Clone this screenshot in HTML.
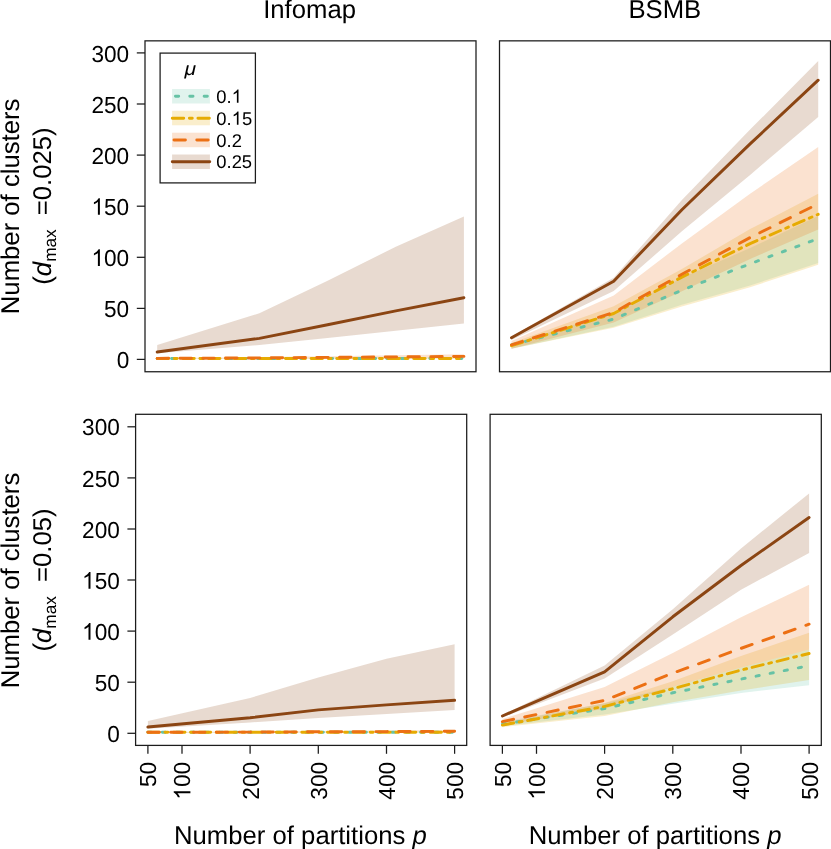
<!DOCTYPE html>
<html><head><meta charset="utf-8"><title>chart</title>
<style>html,body{margin:0;padding:0;background:#fff}svg{display:block;will-change:transform}text{font-family:"Liberation Sans", sans-serif;fill:#000;text-rendering:geometricPrecision}</style>
</head><body>
<svg width="831" height="849" viewBox="0 0 831 849">
<rect x="0" y="0" width="831" height="849" fill="#ffffff"/>
<g id="TL">
<polygon points="157.2,358.2 259.4,358.1 327.6,358.0 395.8,357.9 463.9,357.8 463.9,358.6 395.8,358.6 327.6,358.6 259.4,358.6 157.2,358.6" fill="#66C2A5" fill-opacity="0.2"/>
<polygon points="157.2,358.2 259.4,358.0 327.6,357.8 395.8,357.6 463.9,357.4 463.9,358.6 395.8,358.6 327.6,358.6 259.4,358.6 157.2,358.6" fill="#E6AB02" fill-opacity="0.2"/>
<polygon points="157.2,358.1 259.4,357.1 327.6,356.2 395.8,355.2 463.9,354.3 463.9,357.6 395.8,357.9 327.6,358.2 259.4,358.4 157.2,358.5" fill="#EC7014" fill-opacity="0.2"/>
<polygon points="157.2,345.1 259.4,313.2 327.6,280.8 395.8,246.7 463.9,216.4 463.9,323.5 395.8,330.8 327.6,338.0 259.4,345.1 157.2,353.3" fill="#8B4513" fill-opacity="0.2"/>
<polyline points="157.2,358.4 259.4,358.4 327.6,358.4 395.8,358.4 463.9,358.4" fill="none" stroke="#66C2A5" stroke-width="2.95" stroke-linecap="round" stroke-linejoin="round" stroke-dasharray="3.20 11.15"/>
<polyline points="157.2,358.4 259.4,358.4 327.6,358.4 395.8,358.4 463.9,358.4" fill="none" stroke="#E6AB02" stroke-width="2.95" stroke-linecap="round" stroke-linejoin="round" stroke-dasharray="11.40 5.70 2.85 5.70"/>
<polyline points="157.2,358.4 259.4,357.9 327.6,357.4 395.8,356.9 463.9,356.4" fill="none" stroke="#EC7014" stroke-width="2.95" stroke-linecap="round" stroke-linejoin="round" stroke-dasharray="11.40 11.40"/>
<polyline points="157.2,352.0 259.4,338.4 327.6,324.7 395.8,310.9 463.9,297.7" fill="none" stroke="#8B4513" stroke-width="2.95" stroke-linecap="round" stroke-linejoin="round"/>
<rect x="145.0" y="40.85" width="331.0" height="330.9" fill="none" stroke="#1c1c1c" stroke-width="1.26"/>
</g>
<g id="TR">
<polygon points="511.5,344.1 613.7,312.5 681.9,277.7 750.1,248.1 818.2,216.1 818.2,263.0 750.1,285.5 681.9,304.8 613.7,326.8 511.5,348.7" fill="#66C2A5" fill-opacity="0.2"/>
<polygon points="511.5,343.1 613.7,306.3 681.9,269.0 750.1,229.1 818.2,193.8 818.2,264.8 750.1,287.3 681.9,306.5 613.7,327.8 511.5,348.8" fill="#E6AB02" fill-opacity="0.2"/>
<polygon points="511.5,341.1 613.7,295.4 681.9,243.4 750.1,193.7 818.2,146.9 818.2,229.6 750.1,258.9 681.9,291.2 613.7,322.4 511.5,348.7" fill="#EC7014" fill-opacity="0.2"/>
<polygon points="511.5,336.5 613.7,277.7 681.9,200.1 750.1,129.6 818.2,61.1 818.2,117.0 750.1,174.9 681.9,231.3 613.7,291.0 511.5,340.0" fill="#8B4513" fill-opacity="0.2"/>
<polyline points="511.5,344.9 613.7,319.1 681.9,290.2 750.1,263.8 818.2,238.6" fill="none" stroke="#66C2A5" stroke-width="2.95" stroke-linecap="round" stroke-linejoin="round" stroke-dasharray="3.20 11.15"/>
<polyline points="511.5,345.7 613.7,313.5 681.9,277.1 750.1,243.6 818.2,214.3" fill="none" stroke="#E6AB02" stroke-width="2.95" stroke-linecap="round" stroke-linejoin="round" stroke-dasharray="11.40 5.70 2.85 5.70"/>
<polyline points="511.5,344.8 613.7,312.5 681.9,274.2 750.1,237.6 818.2,203.8" fill="none" stroke="#EC7014" stroke-width="2.95" stroke-linecap="round" stroke-linejoin="round" stroke-dasharray="11.40 11.40"/>
<polyline points="511.5,337.7 613.7,281.2 681.9,209.7 750.1,143.9 818.2,80.2" fill="none" stroke="#8B4513" stroke-width="2.95" stroke-linecap="round" stroke-linejoin="round"/>
<rect x="499.5" y="40.85" width="331.0" height="330.9" fill="none" stroke="#1c1c1c" stroke-width="1.26"/>
</g>
<g id="BL">
<polygon points="147.9,732.1 250.1,732.1 318.3,732.0 386.5,732.0 454.6,731.9 454.6,732.5 386.5,732.5 318.3,732.5 250.1,732.5 147.9,732.5" fill="#66C2A5" fill-opacity="0.2"/>
<polygon points="147.9,732.1 250.1,732.0 318.3,731.9 386.5,731.8 454.6,731.7 454.6,732.5 386.5,732.5 318.3,732.5 250.1,732.5 147.9,732.5" fill="#E6AB02" fill-opacity="0.2"/>
<polygon points="147.9,732.0 250.1,731.5 318.3,731.0 386.5,730.4 454.6,730.0 454.6,732.0 386.5,732.1 318.3,732.2 250.1,732.3 147.9,732.4" fill="#EC7014" fill-opacity="0.2"/>
<polygon points="147.9,721.0 250.1,697.9 318.3,677.6 386.5,658.8 454.6,644.2 454.6,710.0 386.5,714.1 318.3,718.0 250.1,722.4 147.9,728.7" fill="#8B4513" fill-opacity="0.2"/>
<polyline points="147.9,732.3 250.1,732.3 318.3,732.3 386.5,732.3 454.6,732.3" fill="none" stroke="#66C2A5" stroke-width="2.95" stroke-linecap="round" stroke-linejoin="round" stroke-dasharray="3.20 11.15"/>
<polyline points="147.9,732.3 250.1,732.3 318.3,732.3 386.5,732.3 454.6,732.3" fill="none" stroke="#E6AB02" stroke-width="2.95" stroke-linecap="round" stroke-linejoin="round" stroke-dasharray="11.40 5.70 2.85 5.70"/>
<polyline points="147.9,732.3 250.1,732.1 318.3,731.8 386.5,731.6 454.6,731.3" fill="none" stroke="#EC7014" stroke-width="2.95" stroke-linecap="round" stroke-linejoin="round" stroke-dasharray="11.40 11.40"/>
<polyline points="147.9,727.0 250.1,717.8 318.3,709.9 386.5,704.9 454.6,700.3" fill="none" stroke="#8B4513" stroke-width="2.95" stroke-linecap="round" stroke-linejoin="round"/>
<rect x="135.6" y="414.3" width="331.1" height="331.1" fill="none" stroke="#1c1c1c" stroke-width="1.26"/>
</g>
<g id="BR">
<polygon points="502.4,722.1 604.6,703.2 672.8,686.7 741.0,667.6 809.1,649.6 809.1,685.2 741.0,693.0 672.8,703.7 604.6,714.4 502.4,726.1" fill="#66C2A5" fill-opacity="0.2"/>
<polygon points="502.4,723.1 604.6,703.1 672.8,681.2 741.0,656.0 809.1,632.8 809.1,680.0 741.0,690.4 672.8,702.2 604.6,715.9 502.4,727.2" fill="#E6AB02" fill-opacity="0.2"/>
<polygon points="502.4,719.0 604.6,687.1 672.8,652.9 741.0,617.2 809.1,584.8 809.1,649.6 741.0,667.6 672.8,686.7 604.6,708.8 502.4,725.1" fill="#EC7014" fill-opacity="0.2"/>
<polygon points="502.4,714.9 604.6,665.6 672.8,609.2 741.0,548.4 809.1,493.4 809.1,553.0 741.0,589.8 672.8,634.6 604.6,678.6 502.4,717.5" fill="#8B4513" fill-opacity="0.2"/>
<polyline points="502.4,724.1 604.6,708.6 672.8,692.8 741.0,679.1 809.1,665.7" fill="none" stroke="#66C2A5" stroke-width="2.95" stroke-linecap="round" stroke-linejoin="round" stroke-dasharray="3.20 11.15"/>
<polyline points="502.4,725.1 604.6,706.4 672.8,688.7 741.0,670.1 809.1,653.5" fill="none" stroke="#E6AB02" stroke-width="2.95" stroke-linecap="round" stroke-linejoin="round" stroke-dasharray="11.40 5.70 2.85 5.70"/>
<polyline points="502.4,721.6 604.6,700.4 672.8,673.1 741.0,648.4 809.1,624.2" fill="none" stroke="#EC7014" stroke-width="2.95" stroke-linecap="round" stroke-linejoin="round" stroke-dasharray="11.40 11.40"/>
<polyline points="502.4,716.0 604.6,671.9 672.8,616.8 741.0,565.5 809.1,517.5" fill="none" stroke="#8B4513" stroke-width="2.95" stroke-linecap="round" stroke-linejoin="round"/>
<rect x="490.1" y="414.3" width="331.2" height="331.1" fill="none" stroke="#1c1c1c" stroke-width="1.26"/>
</g>
<line x1="136.8" y1="359.4" x2="145.0" y2="359.4" stroke="#1c1c1c" stroke-width="1.26"/>
<g transform="translate(129.2,368.10) scale(0.975,1)"><text x="-12.90" y="0" font-size="23.2">0</text></g>
<line x1="136.8" y1="308.4" x2="145.0" y2="308.4" stroke="#1c1c1c" stroke-width="1.26"/>
<g transform="translate(129.2,317.01) scale(0.975,1)"><text x="-25.81" y="0" font-size="23.2">50</text></g>
<line x1="136.8" y1="257.3" x2="145.0" y2="257.3" stroke="#1c1c1c" stroke-width="1.26"/>
<g transform="translate(129.2,265.93) scale(0.975,1)"><path transform="translate(-38.71,0) scale(0.01133,-0.01133)" d="M763 0H583V1147Q518 1085 412.5 1023Q307 961 223 930V1104Q374 1175 487 1276Q600 1377 647 1472H763Z" fill="#000"/><text x="-25.81" y="0" font-size="23.2">00</text></g>
<line x1="136.8" y1="206.2" x2="145.0" y2="206.2" stroke="#1c1c1c" stroke-width="1.26"/>
<g transform="translate(129.2,214.84) scale(0.975,1)"><path transform="translate(-38.71,0) scale(0.01133,-0.01133)" d="M763 0H583V1147Q518 1085 412.5 1023Q307 961 223 930V1104Q374 1175 487 1276Q600 1377 647 1472H763Z" fill="#000"/><text x="-25.81" y="0" font-size="23.2">50</text></g>
<line x1="136.8" y1="155.1" x2="145.0" y2="155.1" stroke="#1c1c1c" stroke-width="1.26"/>
<g transform="translate(129.2,163.76) scale(0.975,1)"><text x="-38.71" y="0" font-size="23.2">200</text></g>
<line x1="136.8" y1="104.0" x2="145.0" y2="104.0" stroke="#1c1c1c" stroke-width="1.26"/>
<g transform="translate(129.2,112.67) scale(0.975,1)"><text x="-38.71" y="0" font-size="23.2">250</text></g>
<line x1="136.8" y1="52.9" x2="145.0" y2="52.9" stroke="#1c1c1c" stroke-width="1.26"/>
<g transform="translate(129.2,61.59) scale(0.975,1)"><text x="-38.71" y="0" font-size="23.2">300</text></g>
<line x1="127.4" y1="733.3" x2="135.6" y2="733.3" stroke="#1c1c1c" stroke-width="1.26"/>
<g transform="translate(119.8,741.95) scale(0.975,1)"><text x="-12.90" y="0" font-size="23.2">0</text></g>
<line x1="127.4" y1="682.2" x2="135.6" y2="682.2" stroke="#1c1c1c" stroke-width="1.26"/>
<g transform="translate(119.8,690.86) scale(0.975,1)"><text x="-25.81" y="0" font-size="23.2">50</text></g>
<line x1="127.4" y1="631.1" x2="135.6" y2="631.1" stroke="#1c1c1c" stroke-width="1.26"/>
<g transform="translate(119.8,639.78) scale(0.975,1)"><path transform="translate(-38.71,0) scale(0.01133,-0.01133)" d="M763 0H583V1147Q518 1085 412.5 1023Q307 961 223 930V1104Q374 1175 487 1276Q600 1377 647 1472H763Z" fill="#000"/><text x="-25.81" y="0" font-size="23.2">00</text></g>
<line x1="127.4" y1="580.0" x2="135.6" y2="580.0" stroke="#1c1c1c" stroke-width="1.26"/>
<g transform="translate(119.8,588.69) scale(0.975,1)"><path transform="translate(-38.71,0) scale(0.01133,-0.01133)" d="M763 0H583V1147Q518 1085 412.5 1023Q307 961 223 930V1104Q374 1175 487 1276Q600 1377 647 1472H763Z" fill="#000"/><text x="-25.81" y="0" font-size="23.2">50</text></g>
<line x1="127.4" y1="529.0" x2="135.6" y2="529.0" stroke="#1c1c1c" stroke-width="1.26"/>
<g transform="translate(119.8,537.61) scale(0.975,1)"><text x="-38.71" y="0" font-size="23.2">200</text></g>
<line x1="127.4" y1="477.9" x2="135.6" y2="477.9" stroke="#1c1c1c" stroke-width="1.26"/>
<g transform="translate(119.8,486.52) scale(0.975,1)"><text x="-38.71" y="0" font-size="23.2">250</text></g>
<line x1="127.4" y1="426.8" x2="135.6" y2="426.8" stroke="#1c1c1c" stroke-width="1.26"/>
<g transform="translate(119.8,435.44) scale(0.975,1)"><text x="-38.71" y="0" font-size="23.2">300</text></g>
<line x1="147.9" y1="745.4" x2="147.9" y2="753.8" stroke="#1c1c1c" stroke-width="1.26"/>
<g transform="translate(156.3,761.9) rotate(-90) scale(0.975,1)"><text x="-25.81" y="0" font-size="23.2">50</text></g>
<line x1="182.0" y1="745.4" x2="182.0" y2="753.8" stroke="#1c1c1c" stroke-width="1.26"/>
<g transform="translate(190.4,761.9) rotate(-90) scale(0.975,1)"><path transform="translate(-38.71,0) scale(0.01133,-0.01133)" d="M763 0H583V1147Q518 1085 412.5 1023Q307 961 223 930V1104Q374 1175 487 1276Q600 1377 647 1472H763Z" fill="#000"/><text x="-25.81" y="0" font-size="23.2">00</text></g>
<line x1="250.1" y1="745.4" x2="250.1" y2="753.8" stroke="#1c1c1c" stroke-width="1.26"/>
<g transform="translate(258.5,761.9) rotate(-90) scale(0.975,1)"><text x="-38.71" y="0" font-size="23.2">200</text></g>
<line x1="318.3" y1="745.4" x2="318.3" y2="753.8" stroke="#1c1c1c" stroke-width="1.26"/>
<g transform="translate(326.7,761.9) rotate(-90) scale(0.975,1)"><text x="-38.71" y="0" font-size="23.2">300</text></g>
<line x1="386.5" y1="745.4" x2="386.5" y2="753.8" stroke="#1c1c1c" stroke-width="1.26"/>
<g transform="translate(394.9,761.9) rotate(-90) scale(0.975,1)"><text x="-38.71" y="0" font-size="23.2">400</text></g>
<line x1="454.6" y1="745.4" x2="454.6" y2="753.8" stroke="#1c1c1c" stroke-width="1.26"/>
<g transform="translate(463.0,761.9) rotate(-90) scale(0.975,1)"><text x="-38.71" y="0" font-size="23.2">500</text></g>
<line x1="502.4" y1="745.4" x2="502.4" y2="753.8" stroke="#1c1c1c" stroke-width="1.26"/>
<g transform="translate(510.8,761.9) rotate(-90) scale(0.975,1)"><text x="-25.81" y="0" font-size="23.2">50</text></g>
<line x1="536.5" y1="745.4" x2="536.5" y2="753.8" stroke="#1c1c1c" stroke-width="1.26"/>
<g transform="translate(544.9,761.9) rotate(-90) scale(0.975,1)"><path transform="translate(-38.71,0) scale(0.01133,-0.01133)" d="M763 0H583V1147Q518 1085 412.5 1023Q307 961 223 930V1104Q374 1175 487 1276Q600 1377 647 1472H763Z" fill="#000"/><text x="-25.81" y="0" font-size="23.2">00</text></g>
<line x1="604.6" y1="745.4" x2="604.6" y2="753.8" stroke="#1c1c1c" stroke-width="1.26"/>
<g transform="translate(613.0,761.9) rotate(-90) scale(0.975,1)"><text x="-38.71" y="0" font-size="23.2">200</text></g>
<line x1="672.8" y1="745.4" x2="672.8" y2="753.8" stroke="#1c1c1c" stroke-width="1.26"/>
<g transform="translate(681.2,761.9) rotate(-90) scale(0.975,1)"><text x="-38.71" y="0" font-size="23.2">300</text></g>
<line x1="741.0" y1="745.4" x2="741.0" y2="753.8" stroke="#1c1c1c" stroke-width="1.26"/>
<g transform="translate(749.4,761.9) rotate(-90) scale(0.975,1)"><text x="-38.71" y="0" font-size="23.2">400</text></g>
<line x1="809.1" y1="745.4" x2="809.1" y2="753.8" stroke="#1c1c1c" stroke-width="1.26"/>
<g transform="translate(817.5,761.9) rotate(-90) scale(0.975,1)"><text x="-38.71" y="0" font-size="23.2">500</text></g>
<text x="309.6" y="18.1" font-size="25.7" text-anchor="middle">Infomap</text>
<text x="664.8" y="18.1" font-size="25.7" text-anchor="middle">BSMB</text>
<text x="300.4" y="843.7" font-size="25.7" text-anchor="middle">Number of partitions <tspan font-style="italic">p</tspan></text>
<text x="655.1" y="843.7" font-size="25.7" text-anchor="middle">Number of partitions <tspan font-style="italic">p</tspan></text>
<text transform="translate(19.0,206.4) rotate(-90)" font-size="25.7" text-anchor="middle">Number of clusters</text>
<text transform="translate(50.6,284.7) rotate(-90)" font-size="25.7" text-anchor="start">(<tspan font-style="italic">d</tspan><tspan font-size="17.2" dy="5">max</tspan><tspan dy="-5" dx="14.2">=0.025)</tspan></text>
<text transform="translate(19.0,580.55) rotate(-90)" font-size="25.7" text-anchor="middle">Number of clusters</text>
<text transform="translate(50.6,651.5) rotate(-90)" font-size="25.7" text-anchor="start">(<tspan font-style="italic">d</tspan><tspan font-size="17.2" dy="5">max</tspan><tspan dy="-5" dx="14.2">=0.05)</tspan></text>
<rect x="160.1" y="53.1" width="95.3" height="129.8" fill="#fff" stroke="#1c1c1c" stroke-width="1.26"/>
<text transform="translate(184.6,74.8) scale(1.15,1)" font-size="18.4" font-style="italic">μ</text>
<rect x="172.1" y="89.0" width="37.8" height="14.5" fill="#66C2A5" fill-opacity="0.2"/>
<line x1="172.3" y1="96.3" x2="209.7" y2="96.3" stroke="#66C2A5" stroke-width="2.95" stroke-linecap="round" stroke-dasharray="3.20 11.15" stroke-dashoffset="-3.15"/>
<g transform="translate(216.3,102.8)"><text x="0.00" y="0" font-size="18.4">0.</text><path transform="translate(15.35,0) scale(0.00898,-0.00898)" d="M763 0H583V1147Q518 1085 412.5 1023Q307 961 223 930V1104Q374 1175 487 1276Q600 1377 647 1472H763Z" fill="#000"/></g>
<rect x="172.1" y="110.8" width="37.8" height="14.5" fill="#E6AB02" fill-opacity="0.2"/>
<line x1="172.3" y1="118.2" x2="209.7" y2="118.2" stroke="#E6AB02" stroke-width="2.95" stroke-linecap="round" stroke-dasharray="11.40 5.70 2.85 5.70"/>
<g transform="translate(216.3,124.7)"><text x="0.00" y="0" font-size="18.4">0.</text><path transform="translate(15.35,0) scale(0.00898,-0.00898)" d="M763 0H583V1147Q518 1085 412.5 1023Q307 961 223 930V1104Q374 1175 487 1276Q600 1377 647 1472H763Z" fill="#000"/><text x="25.58" y="0" font-size="18.4">5</text></g>
<rect x="172.1" y="132.7" width="37.8" height="14.5" fill="#EC7014" fill-opacity="0.2"/>
<line x1="172.3" y1="140.0" x2="209.7" y2="140.0" stroke="#EC7014" stroke-width="2.95" stroke-linecap="round" stroke-dasharray="11.40 11.40" stroke-dashoffset="-1.7"/>
<g transform="translate(216.3,146.5)"><text x="0.00" y="0" font-size="18.4">0.2</text></g>
<rect x="172.1" y="154.5" width="37.8" height="14.5" fill="#8B4513" fill-opacity="0.2"/>
<line x1="172.3" y1="161.8" x2="209.7" y2="161.8" stroke="#8B4513" stroke-width="2.95" stroke-linecap="round"/>
<g transform="translate(216.3,168.3)"><text x="0.00" y="0" font-size="18.4">0.25</text></g>
</svg>
</body></html>
